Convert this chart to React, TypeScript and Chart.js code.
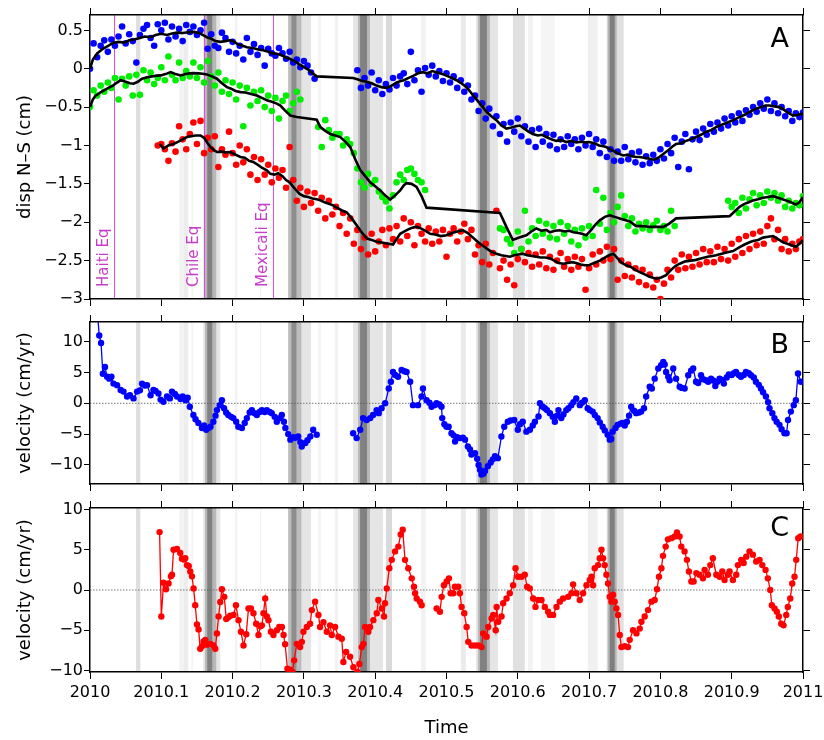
import React, { useEffect, useRef } from 'react';
import { Chart, registerables } from 'chart.js';

Chart.register(...registerables);

const FONT = '"DejaVu Sans", "Liberation Sans", sans-serif';

// ---------- axes ----------
const X_MIN = 2010;
const X_MAX = 2011;
const xTicks = [2010, 2010.1, 2010.2, 2010.3, 2010.4, 2010.5, 2010.6, 2010.7, 2010.8, 2010.9, 2011];
const xTickLabels = ['2010', '2010.1', '2010.2', '2010.3', '2010.4', '2010.5', '2010.6', '2010.7', '2010.8', '2010.9', '2011'];
const yTicksA = [-3, -2.5, -2, -1.5, -1, -0.5, 0, 0.5];
const yTicksV = [-10, -5, 0, 5, 10];

// ---------- shaded event bands: [from, to, shade] ----------
const bands: [number, number, number][] = [
  [2010.0646, 2010.0706, 0.13],
  [2010.1252, 2010.1315, 0.05],
  [2010.1315, 2010.1378, 0.07],
  [2010.142, 2010.145, 0.04],
  [2010.1588, 2010.1827, 0.1],
  [2010.1612, 2010.1771, 0.2],
  [2010.1644, 2010.1715, 0.3],
  [2010.2033, 2010.2065, 0.05],
  [2010.2383, 2010.2401, 0.05],
  [2010.2779, 2010.3101, 0.1],
  [2010.2779, 2010.2965, 0.18],
  [2010.2825, 2010.2895, 0.25],
  [2010.3199, 2010.3241, 0.04],
  [2010.3433, 2010.348, 0.05],
  [2010.369, 2010.411, 0.1],
  [2010.376, 2010.3927, 0.2],
  [2010.3788, 2010.3886, 0.3],
  [2010.4152, 2010.4236, 0.15],
  [2010.4642, 2010.4712, 0.05],
  [2010.5202, 2010.5272, 0.08],
  [2010.5413, 2010.5721, 0.1],
  [2010.5441, 2010.5609, 0.2],
  [2010.5469, 2010.5567, 0.3],
  [2010.5931, 2010.6099, 0.12],
  [2010.6141, 2010.6211, 0.05],
  [2010.6323, 2010.6519, 0.04],
  [2010.6981, 2010.7121, 0.06],
  [2010.7247, 2010.7485, 0.12],
  [2010.7261, 2010.7387, 0.2],
  [2010.7289, 2010.7359, 0.3],
];

// ---------- earthquakes ----------
const quakeNames = ['Haiti Eq', 'Chile Eq', 'Mexicali Eq'];
const quakeTimes = [2010.0332, 2010.1593, 2010.2573];

// ---------- panel A: daily displacement samples (grid 2010 + i*0.005) ----------
const GRID_START = 2010;
const GRID_STEP = 0.005;
const N = null;

const blueDots = [
  0.0, 0.33, 0.15, 0.3, 0.37, 0.22, 0.38, 0.3, 0.42, 0.55,
  0.33, 0.45, 0.36, 0.08, 0.44, 0.52, 0.57, 0.4, 0.3, 0.58,
  0.5, 0.6, 0.38, 0.55, 0.42, 0.52, 0.36, 0.57, 0.48, 0.55,
  0.44, 0.5, 0.6, 0.26, 0.45, 0.3, 0.27, 0.47, 0.4, 0.22,
  0.35, 0.2, 0.3, 0.12, 0.4, 0.22, 0.32, 0.18, 0.27, 0.04,
  0.26, 0.2, 0.17, 0.27, 0.2, 0.13, 0.22, 0.08, 0.12, 0.02,
  0.1, 0.04, -0.05, -0.13, N, N, N, N, N, N,
  N, N, N, N, N, -0.02, -0.25, -0.12, -0.22, -0.05,
  -0.28, -0.15, -0.33, -0.2, -0.27, -0.12, -0.22, -0.1, -0.06, -0.2,
  0.22, -0.15, -0.02, -0.3, 0.01, -0.08, 0.04, -0.1, -0.03, -0.16,
  -0.06, -0.18, -0.1, -0.25, -0.15, -0.3, -0.22, -0.4, -0.35, -0.55,
  -0.45, -0.65, -0.52, -0.75, -0.62, -0.85, -0.72, -0.95, -0.7, -0.82,
  -0.65, -0.88, -0.75, -0.95, -0.8, -1.02, -0.78, -0.95, -0.85, -1.0,
  -0.86, -1.05, -0.92, -1.02, -0.88, -0.98, -0.92, -1.05, -0.9, -1.0,
  -0.85, -1.02, -0.92, -1.1, -0.95, -1.15, -1.05, -1.2, -1.08, -1.2,
  -1.02, -1.18, -1.1, -1.22, -1.08, -1.25, -1.14, -1.23, -1.12, -1.2,
  -1.05, -1.17, -0.98, -1.1, -0.9, -1.28, -0.95, -0.85, -1.31, -0.92,
  -0.82, -0.93, -0.78, -0.86, -0.72, -0.82, -0.7, -0.78, -0.65, -0.74,
  -0.62, -0.7, -0.58, -0.68, -0.54, -0.6, -0.5, -0.56, -0.45, -0.52,
  -0.4, -0.55, -0.45, -0.58, -0.5, -0.62, -0.55, -0.68, -0.58, -0.63,
  -0.57,
];

const greenDots = [
  -0.5, -0.28, -0.35, -0.22, -0.3, -0.18, -0.25, -0.12, -0.4, -0.13,
  -0.22, -0.1, -0.35, -0.08, -0.34, -0.02, -0.15, -0.05, -0.2, -0.12,
  0.02, -0.15, 0.16, -0.08, -0.15, 0.08, -0.12, -0.03, -0.1, 0.08,
  -0.12, 0.02, -0.18, 0.1, -0.1, -0.22, -0.05, -0.3, -0.15, -0.33,
  -0.18, -0.4, -0.22, -0.75, -0.25, -0.48, -0.3, -0.42, -0.28, -0.5,
  -0.35, -0.55, -0.38, -0.65, -0.42, -0.35, -0.55, -0.45, -0.3, -0.4,
  N, N, N, N, -0.76, -1.02, -0.67, -0.8, -0.9, -0.85,
  -0.85, -1.0, -0.92, -0.98, -1.1, -1.3, -1.48, -1.55, -1.37, -1.5,
  -1.45, -1.6, -1.67, -1.73, -1.82, -1.65, -1.48, -1.38, -1.45, -1.32,
  -1.3, -1.37, -1.45, -1.48, -1.58, N, N, N, N, N,
  N, N, N, N, N, N, N, N, N, N,
  N, N, N, N, N, -2.08, -2.1, -2.22, -2.28, -2.4,
  -2.12, -2.35, -1.85, -2.25, -2.08, -2.18, -1.98, -2.15, -2.02, -2.2,
  -2.05, -2.22, -2.0, -2.15, -2.05, -2.25, -2.1, -2.3, -2.08, -2.2,
  -2.05, -2.18, -1.58, -2.02, -1.68, -2.1, -1.88, -2.0, -1.8, -1.65,
  -1.92, -2.05, -1.95, -2.12, -2.02, -2.08, -2.0, -2.1, -2.04, -1.98,
  -2.1, -2.05, -2.12, -1.85, -2.05, N, N, N, N, N,
  N, N, N, N, N, N, N, N, N, -1.72,
  -1.8, -1.75, -1.88, -1.68, -1.82, -1.7, -1.62, -1.78, -1.65, -1.75,
  -1.6, -1.68, -1.62, -1.72, -1.65, -1.8, -1.72, -1.82, -1.75, -1.78,
  -1.66,
];

const redDots = [
  N, N, N, N, N, N, N, N, N, N,
  N, N, N, N, N, N, N, N, N, -1.0,
  -0.98, -1.05, -1.2, -0.97, -1.08, -0.75, -0.92, -1.05, -0.85, -0.7,
  -0.98, -0.68, -1.1, -0.9, -1.05, -0.88, -1.28, -1.05, -1.12, -0.82,
  -1.1, -1.25, -1.0, -1.22, -1.05, -1.38, -1.15, -1.45, -1.18, -1.38,
  -1.25, -1.48, -1.3, -1.42, -1.32, -1.55, -1.02, -1.45, -1.72, -1.55,
  -1.8, -1.6, -1.75, -1.62, -1.85, -1.68, -1.95, -1.72, -1.9, -1.8,
  -2.05, -1.88, -2.15, -1.95, -2.28, -2.1, -2.35, -2.2, -2.42, -2.15,
  -2.38, -2.25, -2.1, -2.3, -2.08, -2.22, -2.05, -2.25, -1.95, -2.18,
  -2.0, -2.3, -2.05, -2.15, -2.25, -2.08, -2.28, -2.12, -2.25, -2.1,
  -2.45, -2.15, -2.08, -2.25, -2.12, -2.02, -2.22, -2.1, -2.42, -2.3,
  -2.52, -2.28, -2.55, -2.4, -1.85, -2.6, -2.5, -2.75, -2.55, -2.82,
  -2.48, -2.35, -2.52, -2.4, -2.58, -2.42, -2.55, -2.38, -2.6, -2.45,
  -2.62, -2.5, -2.4, -2.58, -2.48, -2.62, -2.45, -2.58, -2.48, -2.88,
  -2.6, -2.42, -2.55, -2.38, -2.5, -2.32, -2.48, -2.35, -2.75, -2.5,
  -2.7, -2.55, -2.72, -2.6, -2.78, -2.62, -2.82, -2.68, -2.85, -2.75,
  -3.0, -2.8, -2.62, -2.72, -2.5, -2.62, -2.42, -2.6, -2.45, -2.58,
  -2.4, -2.55, -2.35, -2.52, -2.38, -2.52, -2.32, -2.48, -2.35, -2.5,
  -2.28, -2.45, -2.22, -2.4, -2.18, -2.35, -2.15, -2.3, -2.12, -2.28,
  -2.05, -1.95, -2.22, -2.1, -2.35, -2.22, -2.38, -2.28, -2.35, -2.25,
  -2.22,
];

// ---------- panel A: running means [time, value] ----------
const blueMean: [number, number][] = [
  [2010.0, 0.0], [2010.004, 0.12], [2010.01, 0.2], [2010.018, 0.26], [2010.026, 0.3], [2010.033, 0.34],
  [2010.04, 0.35], [2010.048, 0.34], [2010.055, 0.37], [2010.062, 0.38], [2010.07, 0.4], [2010.077, 0.42],
  [2010.085, 0.41], [2010.092, 0.44], [2010.1, 0.455], [2010.108, 0.44], [2010.115, 0.46], [2010.122, 0.47],
  [2010.13, 0.465], [2010.138, 0.475], [2010.146, 0.48], [2010.152, 0.47], [2010.158, 0.44], [2010.164, 0.41],
  [2010.17, 0.39], [2010.176, 0.36], [2010.183, 0.35], [2010.19, 0.36], [2010.196, 0.37], [2010.2, 0.365],
  [2010.207, 0.32], [2010.214, 0.3], [2010.22, 0.28], [2010.228, 0.27], [2010.236, 0.25], [2010.243, 0.24],
  [2010.25, 0.22], [2010.256, 0.2], [2010.262, 0.195], [2010.268, 0.18], [2010.274, 0.15], [2010.28, 0.13],
  [2010.287, 0.1], [2010.293, 0.06], [2010.3, 0.02], [2010.306, -0.01], [2010.312, -0.06], [2010.318, -0.1],
  [2010.369, -0.12], [2010.376, -0.14], [2010.382, -0.16], [2010.388, -0.17], [2010.395, -0.19], [2010.402, -0.22],
  [2010.409, -0.24], [2010.416, -0.25], [2010.423, -0.22], [2010.43, -0.18], [2010.436, -0.16], [2010.44, -0.15],
  [2010.447, -0.12], [2010.454, -0.09], [2010.46, -0.06], [2010.467, -0.045], [2010.473, -0.06], [2010.48, -0.03],
  [2010.487, -0.05], [2010.494, -0.07], [2010.5, -0.09], [2010.507, -0.12], [2010.514, -0.15], [2010.521, -0.19],
  [2010.528, -0.24], [2010.535, -0.32], [2010.542, -0.4], [2010.551, -0.5], [2010.557, -0.57], [2010.563, -0.62],
  [2010.57, -0.67], [2010.577, -0.74], [2010.584, -0.78], [2010.59, -0.77], [2010.597, -0.75], [2010.603, -0.74],
  [2010.609, -0.78], [2010.615, -0.82], [2010.621, -0.85], [2010.628, -0.87], [2010.634, -0.86], [2010.64, -0.89],
  [2010.647, -0.92], [2010.654, -0.94], [2010.661, -0.93], [2010.668, -0.955], [2010.675, -0.94], [2010.682, -0.96],
  [2010.689, -0.95], [2010.695, -0.96], [2010.7, -0.955], [2010.707, -0.97], [2010.714, -1.0], [2010.72, -1.01],
  [2010.724, -1.02], [2010.73, -1.05], [2010.736, -1.08], [2010.742, -1.11], [2010.748, -1.13], [2010.754, -1.12],
  [2010.76, -1.14], [2010.766, -1.15], [2010.771, -1.15], [2010.777, -1.16], [2010.783, -1.17], [2010.79, -1.185],
  [2010.797, -1.16], [2010.804, -1.11], [2010.81, -1.07], [2010.816, -1.02], [2010.822, -0.98], [2010.829, -0.97],
  [2010.836, -0.94], [2010.843, -0.92], [2010.85, -0.89], [2010.857, -0.86], [2010.864, -0.82], [2010.871, -0.8],
  [2010.878, -0.76], [2010.886, -0.73], [2010.894, -0.7], [2010.902, -0.67], [2010.911, -0.63], [2010.918, -0.6],
  [2010.926, -0.56], [2010.934, -0.52], [2010.941, -0.5], [2010.947, -0.48], [2010.953, -0.48], [2010.96, -0.49],
  [2010.967, -0.5], [2010.974, -0.54], [2010.98, -0.58], [2010.986, -0.61], [2010.993, -0.6], [2011.0, -0.585],
];

const greenMean: [number, number][] = [
  [2010.0, -0.5], [2010.004, -0.4], [2010.008, -0.35], [2010.016, -0.3], [2010.024, -0.26], [2010.032, -0.22],
  [2010.038, -0.18], [2010.043, -0.15], [2010.05, -0.17], [2010.056, -0.19], [2010.061, -0.195], [2010.067, -0.17],
  [2010.073, -0.13], [2010.08, -0.11], [2010.087, -0.1], [2010.093, -0.09], [2010.099, -0.087], [2010.106, -0.07],
  [2010.113, -0.044], [2010.12, -0.07], [2010.127, -0.087], [2010.134, -0.07], [2010.14, -0.06], [2010.145, -0.057],
  [2010.152, -0.06], [2010.158, -0.065], [2010.164, -0.074], [2010.171, -0.1], [2010.178, -0.13], [2010.185, -0.19],
  [2010.192, -0.24], [2010.198, -0.26], [2010.204, -0.29], [2010.211, -0.305], [2010.218, -0.31], [2010.226, -0.33],
  [2010.234, -0.35], [2010.241, -0.38], [2010.248, -0.41], [2010.255, -0.43], [2010.262, -0.455], [2010.267, -0.48],
  [2010.274, -0.55], [2010.281, -0.61], [2010.29, -0.63], [2010.318, -0.665], [2010.323, -0.76], [2010.33, -0.81],
  [2010.337, -0.85], [2010.344, -0.87], [2010.351, -0.89], [2010.358, -0.95], [2010.365, -1.02], [2010.372, -1.18],
  [2010.379, -1.32], [2010.386, -1.4], [2010.393, -1.48], [2010.4, -1.53], [2010.407, -1.585], [2010.414, -1.65],
  [2010.421, -1.705], [2010.428, -1.65], [2010.435, -1.585], [2010.44, -1.52], [2010.444, -1.49], [2010.451, -1.5],
  [2010.458, -1.54], [2010.465, -1.66], [2010.472, -1.81], [2010.575, -1.88], [2010.584, -2.06], [2010.593, -2.23],
  [2010.602, -2.2], [2010.612, -2.17], [2010.619, -2.12], [2010.626, -2.08], [2010.633, -2.11], [2010.64, -2.1],
  [2010.645, -2.13], [2010.652, -2.11], [2010.659, -2.105], [2010.666, -2.12], [2010.672, -2.11], [2010.678, -2.13],
  [2010.685, -2.14], [2010.69, -2.15], [2010.696, -2.17], [2010.703, -2.1], [2010.709, -2.03], [2010.715, -1.975],
  [2010.722, -1.93], [2010.729, -1.91], [2010.736, -1.93], [2010.743, -1.95], [2010.75, -1.97], [2010.757, -1.99],
  [2010.766, -2.05], [2010.775, -2.05], [2010.785, -2.06], [2010.795, -2.06], [2010.804, -2.06], [2010.812, -2.02],
  [2010.822, -1.95], [2010.897, -1.92], [2010.904, -1.86], [2010.911, -1.8], [2010.918, -1.76], [2010.924, -1.74],
  [2010.93, -1.715], [2010.937, -1.7], [2010.944, -1.68], [2010.951, -1.67], [2010.958, -1.66], [2010.965, -1.68],
  [2010.971, -1.7], [2010.976, -1.715], [2010.983, -1.74], [2010.99, -1.77], [2010.995, -1.74], [2011.0, -1.67],
];

const redMean: [number, number][] = [
  [2010.098, -0.98], [2010.103, -1.04], [2010.11, -1.0], [2010.117, -0.98], [2010.124, -0.95], [2010.13, -0.92],
  [2010.136, -0.89], [2010.142, -0.88], [2010.148, -0.87], [2010.155, -0.87], [2010.16, -0.9], [2010.165, -0.97],
  [2010.169, -1.02], [2010.174, -1.06], [2010.178, -1.085], [2010.184, -1.08], [2010.19, -1.09], [2010.197, -1.085],
  [2010.204, -1.12], [2010.211, -1.15], [2010.217, -1.16], [2010.223, -1.2], [2010.229, -1.215], [2010.235, -1.25],
  [2010.241, -1.29], [2010.248, -1.325], [2010.253, -1.37], [2010.259, -1.38], [2010.264, -1.36], [2010.27, -1.4],
  [2010.275, -1.45], [2010.28, -1.48], [2010.287, -1.56], [2010.294, -1.63], [2010.3, -1.66], [2010.306, -1.67],
  [2010.312, -1.69], [2010.318, -1.7], [2010.323, -1.715], [2010.329, -1.74], [2010.335, -1.76], [2010.341, -1.78],
  [2010.348, -1.82], [2010.354, -1.85], [2010.36, -1.87], [2010.367, -1.95], [2010.374, -2.04], [2010.381, -2.13],
  [2010.388, -2.21], [2010.395, -2.23], [2010.401, -2.25], [2010.407, -2.26], [2010.413, -2.27], [2010.419, -2.28],
  [2010.425, -2.29], [2010.43, -2.22], [2010.435, -2.15], [2010.441, -2.12], [2010.447, -2.09], [2010.453, -2.07],
  [2010.458, -2.06], [2010.464, -2.08], [2010.47, -2.11], [2010.477, -2.15], [2010.484, -2.16], [2010.492, -2.18],
  [2010.5, -2.17], [2010.508, -2.14], [2010.515, -2.12], [2010.523, -2.105], [2010.53, -2.14], [2010.537, -2.2],
  [2010.542, -2.24], [2010.547, -2.28], [2010.553, -2.32], [2010.559, -2.36], [2010.564, -2.39], [2010.57, -2.41],
  [2010.577, -2.43], [2010.583, -2.44], [2010.589, -2.45], [2010.595, -2.43], [2010.601, -2.42], [2010.607, -2.41],
  [2010.613, -2.43], [2010.62, -2.44], [2010.626, -2.45], [2010.632, -2.46], [2010.638, -2.46], [2010.645, -2.47],
  [2010.651, -2.5], [2010.657, -2.53], [2010.664, -2.54], [2010.67, -2.53], [2010.676, -2.52], [2010.682, -2.53],
  [2010.688, -2.55], [2010.694, -2.56], [2010.7, -2.56], [2010.707, -2.53], [2010.715, -2.5], [2010.722, -2.46],
  [2010.728, -2.43], [2010.734, -2.41], [2010.74, -2.47], [2010.746, -2.53], [2010.752, -2.56], [2010.758, -2.58],
  [2010.765, -2.62], [2010.771, -2.65], [2010.778, -2.68], [2010.785, -2.71], [2010.794, -2.735], [2010.801, -2.72],
  [2010.808, -2.69], [2010.815, -2.62], [2010.821, -2.57], [2010.827, -2.54], [2010.835, -2.51], [2010.843, -2.5],
  [2010.85, -2.49], [2010.858, -2.47], [2010.866, -2.45], [2010.873, -2.44], [2010.878, -2.43], [2010.886, -2.41],
  [2010.894, -2.39], [2010.902, -2.375], [2010.91, -2.33], [2010.918, -2.29], [2010.925, -2.26], [2010.93, -2.245],
  [2010.937, -2.23], [2010.944, -2.2], [2010.951, -2.19], [2010.958, -2.18], [2010.965, -2.22], [2010.972, -2.26],
  [2010.978, -2.28], [2010.984, -2.3], [2010.99, -2.32], [2010.995, -2.28], [2011.0, -2.235],
];

// ---------- panel B: velocity (blue) [time, cm/yr] ----------
const velB: [number, number | null][] = [
  [2010.0105, 14.5], [2010.013, 11.0], [2010.0155, 9.8], [2010.018, 4.8], [2010.021, 5.9], [2010.024, 4.3],
  [2010.027, 4.0], [2010.03, 4.3], [2010.033, 3.2], [2010.038, 2.95], [2010.043, 2.15], [2010.047, 1.9],
  [2010.052, 1.1], [2010.056, 1.3], [2010.061, 0.8], [2010.066, 1.9], [2010.07, 2.1], [2010.073, 3.2],
  [2010.077, 2.9], [2010.08, 2.95], [2010.085, 1.3], [2010.089, 2.15], [2010.092, 2.0], [2010.096, 1.6],
  [2010.099, 0.6], [2010.103, 0.25], [2010.108, 1.1], [2010.112, 0.8], [2010.115, 1.9], [2010.119, 1.5],
  [2010.122, 1.1], [2010.127, 0.7], [2010.13, 1.1], [2010.134, 0.5], [2010.137, 0.9], [2010.14, -0.55],
  [2010.145, -1.9], [2010.148, -2.6], [2010.152, -3.2], [2010.157, -4.0], [2010.16, -3.6], [2010.163, -4.3],
  [2010.166, -4.0], [2010.169, -3.8], [2010.173, -3.0], [2010.176, -2.0], [2010.178, -1.1], [2010.182, -0.3],
  [2010.185, 0.5], [2010.188, -0.8], [2010.191, -1.5], [2010.194, -1.9], [2010.198, -2.2], [2010.201, -2.4],
  [2010.205, -3.0], [2010.208, -3.8], [2010.213, -4.0], [2010.217, -3.2], [2010.22, -2.4], [2010.224, -1.5],
  [2010.227, -1.1], [2010.231, -1.6], [2010.234, -1.9], [2010.238, -1.4], [2010.241, -1.1], [2010.245, -1.4],
  [2010.248, -1.1], [2010.252, -1.4], [2010.255, -1.6], [2010.259, -2.2], [2010.262, -3.0], [2010.266, -2.4],
  [2010.269, -1.9], [2010.272, -3.0], [2010.274, -4.0], [2010.278, -5.0], [2010.281, -5.9], [2010.285, -5.5],
  [2010.288, -5.6], [2010.292, -5.4], [2010.295, -6.3], [2010.297, -7.0], [2010.302, -6.45], [2010.305, -6.0],
  [2010.309, -5.4], [2010.313, -4.3], [2010.318, -5.1], [2010.34, null],
  [2010.369, -4.85], [2010.374, -5.65], [2010.379, -4.3], [2010.383, -2.4], [2010.388, -2.7], [2010.393, -2.4],
  [2010.397, -1.9], [2010.402, -1.1], [2010.405, -1.6], [2010.409, -0.8], [2010.414, 0.0], [2010.419, 2.4],
  [2010.422, 3.5], [2010.425, 5.1], [2010.428, 4.6], [2010.432, 4.3], [2010.437, 5.4], [2010.441, 5.2],
  [2010.444, 5.1], [2010.449, 3.5], [2010.453, -0.3], [2010.46, -0.3], [2010.465, 1.1], [2010.467, 2.4],
  [2010.472, 0.5], [2010.476, 0.1], [2010.479, -0.55], [2010.483, -0.3], [2010.486, 0.0], [2010.49, -0.2],
  [2010.493, -0.55], [2010.494, -2.4], [2010.497, -3.4], [2010.5, -3.8], [2010.503, -3.8], [2010.507, -4.85],
  [2010.51, -5.2], [2010.512, -6.2], [2010.515, -5.5], [2010.519, -5.65], [2010.523, -5.6], [2010.526, -5.9],
  [2010.53, -7.0], [2010.533, -7.5], [2010.535, -8.3], [2010.54, -8.1], [2010.543, -9.0], [2010.545, -10.0],
  [2010.547, -10.8], [2010.549, -11.55], [2010.552, -11.4], [2010.554, -11.0], [2010.558, -10.2], [2010.562, -9.6],
  [2010.565, -9.1], [2010.568, -8.6], [2010.572, -8.9], [2010.577, -5.4], [2010.581, -3.8], [2010.586, -3.0],
  [2010.59, -2.8], [2010.595, -2.7], [2010.6, -4.3], [2010.603, -3.4], [2010.607, -3.0], [2010.612, -4.6],
  [2010.617, -4.3], [2010.621, -3.6], [2010.624, -3.0], [2010.629, -2.15], [2010.631, 0.0], [2010.635, -0.55],
  [2010.638, -0.8], [2010.641, -1.1], [2010.645, -1.6], [2010.649, -2.2], [2010.652, -3.0], [2010.655, -2.0],
  [2010.657, -1.1], [2010.661, -2.4], [2010.664, -1.8], [2010.668, -1.1], [2010.671, -0.8], [2010.675, -0.3],
  [2010.678, 0.2], [2010.682, 0.8], [2010.687, -0.3], [2010.69, 0.1], [2010.694, 0.5], [2010.698, -0.8],
  [2010.701, -1.1], [2010.705, -1.35], [2010.708, -1.9], [2010.712, -2.4], [2010.715, -3.1], [2010.719, -3.8],
  [2010.722, -4.4], [2010.726, -5.1], [2010.729, -5.9], [2010.731, -5.8], [2010.733, -4.6], [2010.737, -4.0],
  [2010.74, -3.5], [2010.744, -3.3], [2010.747, -3.2], [2010.75, -3.6], [2010.753, -3.0], [2010.756, -2.0],
  [2010.759, -0.55], [2010.763, -1.2], [2010.766, -1.6], [2010.77, -1.5], [2010.773, -1.35], [2010.777, -0.8],
  [2010.78, 1.1], [2010.785, 2.7], [2010.788, 2.4], [2010.792, 4.0], [2010.797, 5.65], [2010.801, 6.2],
  [2010.804, 6.7], [2010.806, 6.3], [2010.808, 5.1], [2010.811, 4.3], [2010.813, 3.75], [2010.818, 5.65],
  [2010.822, 4.0], [2010.827, 2.7], [2010.83, 2.5], [2010.834, 2.4], [2010.839, 4.55], [2010.843, 5.3],
  [2010.846, 5.65], [2010.85, 3.5], [2010.853, 3.3], [2010.857, 4.55], [2010.86, 3.9], [2010.864, 3.75],
  [2010.867, 3.5], [2010.871, 4.0], [2010.874, 3.7], [2010.877, 2.8], [2010.88, 3.5], [2010.883, 4.0],
  [2010.886, 3.8], [2010.889, 3.2], [2010.893, 4.2], [2010.896, 4.7], [2010.9, 4.6], [2010.903, 4.9],
  [2010.906, 5.1], [2010.91, 4.6], [2010.913, 4.3], [2010.917, 4.6], [2010.92, 5.1], [2010.924, 4.9],
  [2010.927, 4.55], [2010.931, 4.2], [2010.934, 3.5], [2010.938, 3.0], [2010.941, 2.4], [2010.944, 1.8],
  [2010.948, 1.1], [2010.951, 0.2], [2010.953, -0.8], [2010.957, -1.6], [2010.96, -2.4], [2010.963, -3.0],
  [2010.967, -3.5], [2010.97, -4.2], [2010.974, -4.85], [2010.977, -4.85], [2010.979, -2.7], [2010.983, -1.35],
  [2010.987, -0.3], [2010.99, 0.5], [2010.993, 4.85], [2010.997, 3.5],
];

// ---------- panel C: velocity (red) [time, cm/yr] ----------
const velC: [number, number | null][] = [
  [2010.0976, 7.2], [2010.1, -3.3], [2010.1032, 0.9], [2010.1066, 0.1], [2010.1102, 0.8], [2010.1135, 1.7],
  [2010.115, 1.9], [2010.1172, 5.0], [2010.122, 5.1], [2010.1266, 4.6], [2010.129, 3.9], [2010.1315, 3.8],
  [2010.1336, 3.95], [2010.136, 3.1], [2010.1385, 3.0], [2010.1406, 2.3], [2010.143, 1.7], [2010.1453, 0.2],
  [2010.1476, -1.9], [2010.15, -4.3], [2010.1523, -4.9], [2010.1546, -7.3], [2010.157, -7.0], [2010.1593, -6.4],
  [2010.1617, -6.2], [2010.164, -6.8], [2010.1687, -6.7], [2010.1733, -6.9], [2010.1757, -7.3], [2010.178, -5.4],
  [2010.1803, -3.3], [2010.1827, -1.5], [2010.185, 0.1], [2010.1883, -0.85], [2010.1911, -3.6], [2010.194, -3.4],
  [2010.1967, -3.2], [2010.2013, -3.1], [2010.2047, -1.9], [2010.2083, -3.75], [2010.2117, -5.2], [2010.2153, -6.9],
  [2010.2191, -5.5], [2010.2223, -2.3], [2010.2257, -2.3], [2010.2293, -2.9], [2010.2331, -4.2], [2010.2363, -5.6],
  [2010.239, -4.5], [2010.2411, -4.4], [2010.2433, -2.9], [2010.2457, -1.05], [2010.2481, -3.3], [2010.2503, -3.75],
  [2010.2537, -5.2], [2010.2573, -5.6], [2010.2621, -5.0], [2010.2655, -4.6], [2010.2691, -4.6], [2010.2715, -5.6],
  [2010.2737, -6.75], [2010.2769, -9.8], [2010.2807, -9.9], [2010.2839, -10.2], [2010.2863, -8.75], [2010.2901, -6.7],
  [2010.2947, -7.1], [2010.2971, -6.45], [2010.2993, -5.2], [2010.3041, -4.6], [2010.3087, -4.2], [2010.3111, -2.5],
  [2010.3157, -1.45], [2010.3204, -3.1], [2010.3227, -4.6], [2010.3274, -4.0], [2010.3321, -5.2], [2010.3367, -4.4],
  [2010.3391, -5.6], [2010.3437, -4.6], [2010.3484, -5.8], [2010.3531, -6.05], [2010.3554, -8.95], [2010.3592, -7.7],
  [2010.3648, -8.3], [2010.3694, -9.6], [2010.375, -10.2], [2010.3778, -9.2], [2010.3811, -7.1], [2010.3835, -6.7],
  [2010.3858, -4.6], [2010.3904, -5.2], [2010.3928, -4.6], [2010.3974, -3.75], [2010.4022, -2.9], [2010.4044, -1.25],
  [2010.4092, -2.3], [2010.4124, -3.3], [2010.4138, -1.65], [2010.4162, 0.2], [2010.4198, 2.7], [2010.4232, 3.75],
  [2010.4278, 4.8], [2010.4324, 5.4], [2010.4358, 6.9], [2010.4386, 7.5], [2010.4418, 3.75], [2010.4464, 2.7],
  [2010.4512, 1.45], [2010.4544, 0.4], [2010.456, -0.4], [2010.4582, -1.05], [2010.4628, -1.45], [2010.4652, -1.9],
  [2010.475, null],
  [2010.4862, -2.3], [2010.4908, -2.7], [2010.4932, -0.85], [2010.4964, 0.6], [2010.5002, 1.05], [2010.5034, 1.45],
  [2010.5058, -0.4], [2010.5095, -0.4], [2010.5118, 0.4], [2010.5165, 0.4], [2010.5188, -0.4], [2010.5212, -2.1],
  [2010.5249, -2.9], [2010.5282, -4.6], [2010.5305, -6.45], [2010.5352, -6.9], [2010.5398, -6.9], [2010.5445, -6.9],
  [2010.5492, -7.1], [2010.5515, -5.4], [2010.5562, -5.8], [2010.5585, -4.6], [2010.5632, -3.55], [2010.5655, -3.1],
  [2010.569, -5.0], [2010.5703, -2.1], [2010.5725, -3.95], [2010.5772, -3.3], [2010.5795, -1.65], [2010.5842, -1.05],
  [2010.5888, -0.4], [2010.5935, 0.6], [2010.5968, 2.7], [2010.6005, 1.65], [2010.6052, 1.65], [2010.6098, 1.9],
  [2010.6131, 0.4], [2010.6168, 0.2], [2010.6215, -1.05], [2010.6248, -2.1], [2010.6285, -1.25], [2010.6332, -1.25],
  [2010.6379, -2.1], [2010.6425, -2.7], [2010.6449, -3.1], [2010.6495, -3.1], [2010.6543, -2.1], [2010.6589, -1.45],
  [2010.6635, -1.05], [2010.6705, -0.85], [2010.6753, -0.4], [2010.6776, 0.7], [2010.6823, -0.4], [2010.6869, -1.25],
  [2010.6916, -0.4], [2010.6963, 0.6], [2010.7009, 1.25], [2010.7033, 1.65], [2010.7056, 0.6], [2010.7079, 2.7],
  [2010.7126, 3.1], [2010.7149, 3.95], [2010.7173, 5.0], [2010.7196, 3.95], [2010.7219, 3.1], [2010.7243, 1.9],
  [2010.7266, 0.8], [2010.7289, -0.85], [2010.7313, -1.45], [2010.7336, -0.6], [2010.7359, -1.45], [2010.7383, -2.3],
  [2010.7406, -3.1], [2010.743, -5.6], [2010.7453, -7.1], [2010.75, -7.0], [2010.7546, -7.1], [2010.757, -6.2],
  [2010.7616, -5.0], [2010.7664, -5.4], [2010.771, -4.8], [2010.7734, -3.95], [2010.778, -3.3], [2010.7826, -2.5],
  [2010.7874, -1.45], [2010.792, -1.25], [2010.7952, 0.1], [2010.798, 1.65], [2010.8014, 2.7], [2010.8036, 4.25],
  [2010.8074, 5.4], [2010.8106, 6.3], [2010.8154, 6.45], [2010.8201, 6.65], [2010.8232, 7.15], [2010.8269, 6.65],
  [2010.8293, 5.4], [2010.8339, 4.8], [2010.8372, 3.75], [2010.84, 2.3], [2010.8434, 1.05], [2010.8466, 1.05],
  [2010.8504, 2.1], [2010.8549, 1.9], [2010.8596, 1.45], [2010.862, 2.5], [2010.8666, 1.9], [2010.87, 3.1],
  [2010.8736, 3.95], [2010.8784, 1.9], [2010.883, 1.65], [2010.8868, 2.3], [2010.89, 1.25], [2010.8947, 1.9],
  [2010.897, 2.3], [2010.9017, 1.25], [2010.9064, 1.9], [2010.9087, 3.1], [2010.9134, 3.75], [2010.9167, 3.35],
  [2010.9204, 4.15], [2010.925, 4.8], [2010.9297, 4.4], [2010.9344, 3.55], [2010.9391, 3.75], [2010.9429, 3.1],
  [2010.9475, 2.5], [2010.9507, 1.45], [2010.9541, 0.0], [2010.9563, -1.9], [2010.9601, -2.3], [2010.9633, -2.7],
  [2010.9661, -3.3], [2010.9695, -4.2], [2010.9727, -4.4], [2010.9765, -3.1], [2010.9787, -2.1], [2010.9821, -1.05],
  [2010.9849, 0.8], [2010.9881, 1.65], [2010.9905, 3.75], [2010.9933, 6.45], [2010.9965, 6.65],
];

// ---------- helpers ----------
const pairsToXY = (p: [number, number | null][]) => p.map(([x, y]) => ({ x, y }));
const gridToXY = (vals: (number | null)[]) => vals.map((y, i) => ({ x: GRID_START + i * GRID_STEP, y }));
const fmtNum = (v: number) => (v < 0 ? '\u2212' + String(Math.abs(v)) : String(v));

const BORDER = { display: true, color: '#000', width: 1.5 };

function xAxis(position: 'top' | 'bottom', size: number, labels: boolean, title: boolean) {
  return {
    type: 'linear',
    position,
    min: X_MIN,
    max: X_MAX,
    afterBuildTicks: (s: any) => {
      s.ticks = xTicks.map((v) => ({ value: v }));
    },
    afterFit: (s: any) => {
      s.height = size;
      s.paddingLeft = 0;
      s.paddingRight = 0;
    },
    border: BORDER,
    grid: { drawOnChartArea: false, drawTicks: true, tickLength: 7, color: '#000', lineWidth: 1 },
    ticks: {
      display: labels,
      autoSkip: false,
      maxRotation: 0,
      minRotation: 0,
      padding: 4,
      color: '#000',
      font: { family: FONT, size: 16 },
      callback: (_v: any, i: number) => xTickLabels[i],
    },
    title: {
      display: title,
      text: 'Time',
      color: '#000',
      font: { family: FONT, size: 18 },
      padding: { top: 0, bottom: 1.2 },
    },
  };
}

function yAxes(min: number, max: number, ticks: number[], title: string) {
  const common = {
    type: 'linear',
    min,
    max,
    afterBuildTicks: (s: any) => {
      s.ticks = ticks.map((v) => ({ value: v }));
    },
    border: BORDER,
  };
  return {
    y: {
      ...common,
      position: 'left',
      afterFit: (s: any) => {
        s.width = 90;
        s.paddingTop = 0;
        s.paddingBottom = 0;
      },
      grid: { drawOnChartArea: false, drawTicks: true, tickLength: 6, color: '#000', lineWidth: 1 },
      ticks: {
        padding: 1,
        color: '#000',
        font: { family: FONT, size: 16 },
        callback: (v: number) => fmtNum(v),
      },
      title: {
        display: true,
        text: title,
        color: '#000',
        font: { family: FONT, size: 18 },
        padding: { top: 14.2, bottom: 0 },
      },
    },
    yR: {
      ...common,
      position: 'right',
      afterFit: (s: any) => {
        s.width = 21;
        s.paddingTop = 0;
        s.paddingBottom = 0;
      },
      grid: { drawOnChartArea: false, drawTicks: true, tickLength: 7, color: '#000', lineWidth: 1 },
      ticks: { display: false },
    },
  };
}

function bandsPlugin(withQuakes: boolean) {
  return {
    id: 'bands',
    beforeDraw(chart: any) {
      const { ctx, chartArea: a, scales } = chart;
      const xs = scales.x;
      ctx.save();
      ctx.beginPath();
      ctx.rect(a.left, a.top, a.right - a.left, a.bottom - a.top);
      ctx.clip();
      for (const [t0, t1, s] of bands) {
        const x0 = xs.getPixelForValue(t0);
        const x1 = xs.getPixelForValue(t1);
        ctx.fillStyle = `rgba(0,0,0,${s})`;
        ctx.fillRect(x0, a.top, Math.max(1, x1 - x0), a.bottom - a.top);
      }
      if (withQuakes) {
        quakeTimes.forEach((t, i) => {
          const px = Math.round(xs.getPixelForValue(t)) + 0.5;
          ctx.strokeStyle = '#e04ce0';
          ctx.lineWidth = 1;
          ctx.beginPath();
          ctx.moveTo(px, a.top);
          ctx.lineTo(px, a.bottom);
          ctx.stroke();
          ctx.save();
          ctx.translate(px - 10.5, a.bottom - 12);
          ctx.rotate(-Math.PI / 2);
          ctx.fillStyle = '#c63cc8';
          ctx.font = `15px ${FONT}`;
          ctx.textAlign = 'left';
          ctx.textBaseline = 'middle';
          ctx.fillText(quakeNames[i], 0, 0);
          ctx.restore();
        });
      }
      ctx.restore();
    },
  };
}

function letterPlugin(letter: string, dy: number) {
  return {
    id: 'letter',
    afterDraw(chart: any) {
      const { ctx, chartArea: a } = chart;
      ctx.save();
      ctx.fillStyle = '#000';
      ctx.font = `27px ${FONT}`;
      ctx.textAlign = 'right';
      ctx.textBaseline = 'alphabetic';
      ctx.fillText(letter, a.right - 14, a.top + dy);
      ctx.restore();
    },
  };
}

const baseOptions = {
  responsive: false,
  animation: false,
  events: [],
  layout: { padding: 0 },
  plugins: { legend: { display: false }, tooltip: { enabled: false } },
};

function dots(data: any, color: string) {
  return {
    data,
    showLine: false,
    pointRadius: 3.3,
    pointBorderWidth: 0,
    pointBackgroundColor: color,
    borderColor: color,
    order: 5,
  };
}

function meanLine(pairs: [number, number][]) {
  return {
    data: pairsToXY(pairs),
    borderColor: '#000',
    borderWidth: 2.6,
    pointRadius: 0,
    tension: 0,
    order: 1,
  };
}

function zeroLine() {
  return {
    data: [
      { x: X_MIN, y: 0 },
      { x: X_MAX, y: 0 },
    ],
    borderColor: '#555',
    borderWidth: 0.8,
    borderDash: [1.5, 1.5],
    pointRadius: 0,
    order: 9,
  };
}

function velLine(pairs: [number, number | null][], color: string) {
  return {
    data: pairsToXY(pairs),
    borderColor: color,
    borderWidth: 1.3,
    pointRadius: 3.2,
    pointBorderWidth: 0,
    pointBackgroundColor: color,
    spanGaps: false,
    tension: 0,
    clip: 0,
    order: 2,
  };
}

function configA() {
  return {
    type: 'line',
    data: {
      datasets: [
        meanLine(blueMean),
        meanLine(greenMean),
        meanLine(redMean),
        dots(gridToXY(blueDots), '#0000ff'),
        dots(gridToXY(greenDots), '#00ee00'),
        dots(gridToXY(redDots), '#ff0000'),
      ],
    },
    options: {
      ...baseOptions,
      scales: {
        x: xAxis('bottom', 11, false, false),
        xTop: xAxis('top', 15, false, false),
        ...yAxes(-3, 0.7, yTicksA, 'disp N\u2013S (cm)'),
      },
    },
    plugins: [bandsPlugin(true), letterPlugin('A', 32)],
  };
}

function configB() {
  return {
    type: 'line',
    data: { datasets: [velLine(velB, '#0000ff'), zeroLine()] },
    options: {
      ...baseOptions,
      scales: {
        x: xAxis('bottom', 12, false, false),
        xTop: xAxis('top', 12, false, false),
        ...yAxes(-13.1, 13.2, yTicksV, 'velocity (cm/yr)'),
      },
    },
    plugins: [bandsPlugin(false), letterPlugin('B', 31)],
  };
}

function configC() {
  return {
    type: 'line',
    data: { datasets: [velLine(velC, '#ff0000'), zeroLine()] },
    options: {
      ...baseOptions,
      scales: {
        x: xAxis('bottom', 68, true, true),
        xTop: xAxis('top', 12, false, false),
        ...yAxes(-10.2, 10.2, yTicksV, 'velocity (cm/yr)'),
      },
    },
    plugins: [bandsPlugin(false), letterPlugin('C', 28)],
  };
}

function Panel({ top, height, make }: { top: number; height: number; make: () => any }) {
  const ref = useRef<HTMLCanvasElement>(null);
  useEffect(() => {
    const chart = new Chart(ref.current as HTMLCanvasElement, make());
    return () => chart.destroy();
  }, []);
  return (
    <canvas
      ref={ref}
      width={824}
      height={height}
      style={{ position: 'absolute', left: 0, top, width: 824, height }}
    />
  );
}

export default function App() {
  return (
    <div style={{ position: 'fixed', left: 0, top: 0, width: 824, height: 740, background: '#fff', overflow: 'hidden' }}>
      <Panel top={0} height={310} make={configA} />
      <Panel top={310} height={186} make={configB} />
      <Panel top={496} height={244} make={configC} />
    </div>
  );
}
